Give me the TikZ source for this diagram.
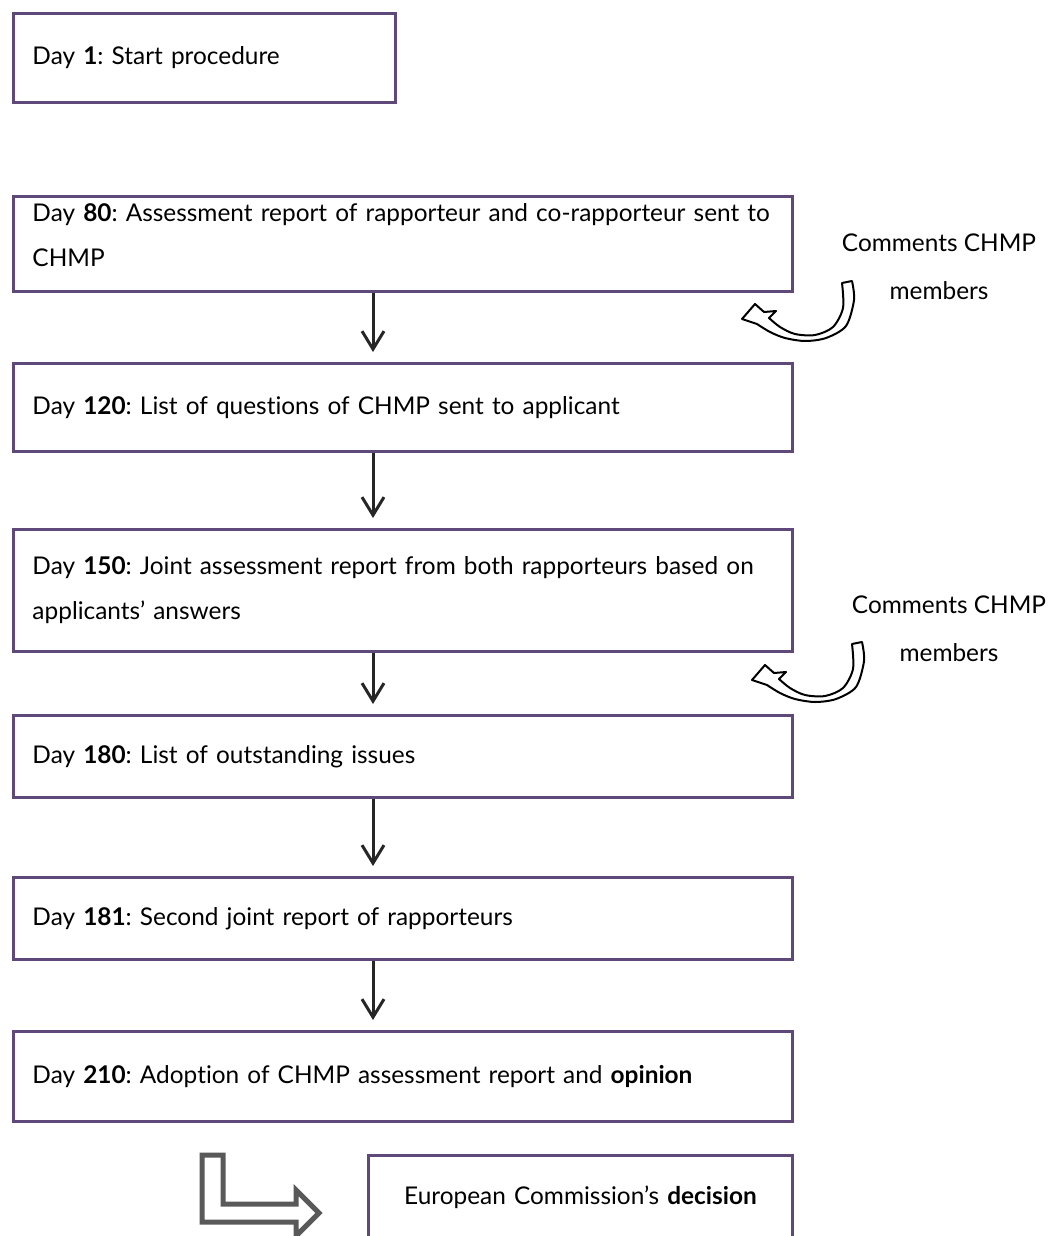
\documentclass[tikz,border=0pt]{standalone}
\usepackage{fontspec}
\setmainfont{Lato}[Ligatures={TeX,NoCommon}]
\usepackage{tikz}
\usetikzlibrary{positioning, arrows.meta}
\definecolor{boxpurple}{HTML}{5F497A}
\definecolor{arrowgray}{HTML}{595959}
\frenchspacing

\begin{document}
\begin{tikzpicture}[
    x=0.5pt, y=-0.5pt, % one unit = one pixel of the layout
    % --- STYLES ---
    daybox/.style={draw=boxpurple, line width=1.5pt, fill=white, inner xsep=9.5pt, inner ysep=0pt,
        align=left, text width=370.5pt, font=\fontsize{12.2}{22.5}\selectfont},
    comment/.style={align=center, font=\fontsize{12.2}{24}\selectfont},
    flow/.style={->, line width=1.5pt, draw=black!85, shorten >=5pt},
    pics/feedback/.style={code={
        \draw[line width=1pt, fill=white, line join=round]
            (-110,38) -- (-97,23) -- (-88,31) -- (-76,30) -- (-83,37)
            -- plot[smooth] coordinates {(-83,37) (-72,46) (-57,53) (-37,54) (-19,46) (-9,27) (-10,2)}
            -- (0,0)
            -- plot[smooth] coordinates {(0,0) (2,19) (-6,45) (-26,57) (-47,60) (-67,57) (-82,51) (-95,43)}
            -- cycle;
    }},
    >={Straight Barb[length=9pt, width=11pt]}
]
\useasboundingbox (0,0) rectangle (1053,1236);
\clip (0,0) rectangle (1053,1236);

% --- PROCEDURE STEPS ---
\node (d1) [daybox, text width=172pt, minimum height=44.5pt, anchor=north west] at (12,12) {Day \textbf{1}: Start procedure};
\node (d80) [daybox, minimum height=47.5pt, below=45.5pt of d1.south west, anchor=north west] {Day \textbf{80}: Assessment report of rapporteur and co-rapporteur sent to\\CHMP\vspace{9pt}};
\node (d120) [daybox, minimum height=44pt, below=34.5pt of d80.south west, anchor=north west] {Day \textbf{120}: List of questions of CHMP sent to applicant};
\node (d150) [daybox, minimum height=61pt, below=37.5pt of d120.south west, anchor=north west] {Day \textbf{150}: Joint assessment report from both rapporteurs based on\\applicants’ answers};
\node (d180) [daybox, minimum height=41pt, below=30.5pt of d150.south west, anchor=north west] {Day \textbf{180}: List of outstanding issues};
\node (d181) [daybox, minimum height=41pt, below=38.5pt of d180.south west, anchor=north west] {Day \textbf{181}: Second joint report of rapporteurs};
\node (d210) [daybox, minimum height=45pt, below=34.5pt of d181.south west, anchor=north west] {Day \textbf{210}: Adoption of CHMP assessment report and \textbf{opinion}};

% --- OUTCOME ---
\node (ec) [daybox, align=center, text width=193pt, minimum height=50pt, below=15.5pt of d210.south east, anchor=north east] {European Commission’s \textbf{decision}\vspace{8pt}}; % runs past the bottom edge

% --- COMMENTS (side input) ---
\node (c80) [comment] at (939,267) {Comments CHMP\\members};
\node (c150) [comment] at (949,629) {Comments CHMP\\members};
\pic at (852,281) {feedback};
\pic at (862,642) {feedback};

% Edges (Arrows)
\draw [flow] ([xshift=-15pt]d80.south) -- ([xshift=-15pt]d120.north);
\draw [flow] ([xshift=-15pt]d120.south) -- ([xshift=-15pt]d150.north);
\draw [flow] ([xshift=-15pt]d150.south) -- ([xshift=-15pt]d180.north);
\draw [flow] ([xshift=-15pt]d180.south) -- ([xshift=-15pt]d181.north);
\draw [flow] ([xshift=-15pt]d181.south) -- ([xshift=-15pt]d210.north);

% bent block arrow towards the decision
\draw [line width=2.5pt, draw=arrowgray] (202,1155) -- (223,1155) -- (223,1204) -- (296,1204) -- (296,1190)
    -- (319,1213) -- (296,1236) -- (296,1222) -- (202,1222) -- cycle;

\end{tikzpicture}
\end{document}
